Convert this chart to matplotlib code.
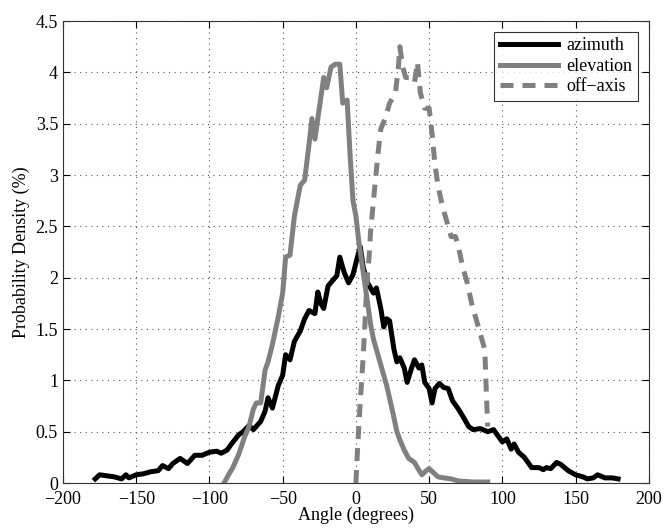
import numpy as np
import matplotlib
matplotlib.use("Agg")
import matplotlib.pyplot as plt

# azimuth (black)
az_x = [-178, -175, -170, -165, -160, -157, -155, -150, -145, -140, -135, -132, -128, -125,
        -120, -115, -110, -105, -100, -95, -92, -88, -85, -80, -77, -73, -70, -65, -62, -60,
        -57, -53, -50, -48, -45, -42, -38, -35, -32, -28, -26, -24, -22, -19, -16, -13, -11,
        -8, -5, -2, 1, 3, 5, 8, 12, 14, 17, 19, 21, 23, 26, 28, 30, 33, 35, 38, 40, 43, 45,
        47, 50, 52, 54, 57, 60, 63, 66, 70, 73, 77, 80, 85, 90, 94, 97, 100, 103, 106, 108,
        111, 115, 120, 125, 128, 130, 133, 137, 140, 145, 150, 155, 158, 162, 165, 170, 175, 179]
az_y = [0.04, 0.08, 0.07, 0.06, 0.04, 0.08, 0.05, 0.08, 0.09, 0.11, 0.12, 0.17, 0.14, 0.19,
        0.24, 0.19, 0.27, 0.27, 0.30, 0.31, 0.29, 0.32, 0.38, 0.47, 0.50, 0.56, 0.52, 0.60, 0.70, 0.83,
        0.73, 0.95, 1.05, 1.25, 1.20, 1.38, 1.48, 1.60, 1.68, 1.65, 1.86, 1.75, 1.70, 1.92, 1.97, 2.02, 2.20,
        2.05, 1.95, 2.03, 2.20, 2.30, 2.10, 1.95, 1.85, 1.90, 1.70, 1.52, 1.60, 1.58, 1.30, 1.18, 1.22, 1.12, 0.98, 1.12, 1.20, 1.12, 1.15,
        0.98, 0.92, 0.78, 0.92, 0.97, 0.93, 0.92, 0.80, 0.72, 0.65, 0.55, 0.52, 0.53, 0.50, 0.52, 0.46, 0.40, 0.43, 0.33, 0.38,
        0.30, 0.25, 0.15, 0.15, 0.13, 0.15, 0.14, 0.20, 0.18, 0.12, 0.08, 0.06, 0.04, 0.05, 0.08, 0.05, 0.05, 0.04]

# elevation (grey solid)
el_x = [-90, -87, -84, -80, -76, -73, -70, -68, -65, -62, -60, -57, -53, -50, -48, -45, -42,
        -38, -35, -32, -30, -28, -25, -22, -20, -17, -14, -11, -9, -6, -4, -2, 0, 2, 4, 6, 8,
        10, 12, 15, 18, 21, 25, 28, 30, 33, 36, 40, 42, 45, 48, 50, 53, 56, 60, 65, 70, 75, 80, 85, 90]
el_y = [0.0, 0.08, 0.15, 0.28, 0.45, 0.55, 0.72, 0.78, 0.78, 1.10, 1.18, 1.35, 1.62, 1.85, 2.20, 2.22, 2.60,
        2.90, 2.95, 3.30, 3.55, 3.35, 3.65, 3.95, 3.85, 4.05, 4.08, 4.08, 3.70, 3.73, 3.20, 2.75, 2.60, 2.35, 2.15, 1.95, 1.75,
        1.55, 1.40, 1.25, 1.10, 0.95, 0.70, 0.50, 0.42, 0.32, 0.24, 0.20, 0.15, 0.08, 0.12, 0.14, 0.10, 0.06, 0.05, 0.04, 0.02, 0.015, 0.01, 0.01, 0.01]

# off-axis (grey dashed)
off_x = [0, 1, 2, 3, 4, 5, 6, 7, 8, 9, 10, 11, 13, 15, 17, 20, 23, 27, 29, 30, 32, 34, 37, 40,
         42, 44, 47, 50, 52, 54, 56, 59, 62, 65, 68, 70, 73, 76, 79, 82, 85, 88, 89, 90]
off_y = [0.0, 0.30, 0.55, 0.80, 1.0, 1.25, 1.50, 1.80, 2.05, 2.20, 2.45, 2.60, 2.90, 3.20, 3.45, 3.55, 3.70, 3.80, 4.05, 4.25, 4.05, 3.95, 3.95, 3.90,
         4.10, 3.80, 3.65, 3.65, 3.40, 3.10, 2.90, 2.70, 2.55, 2.40, 2.40, 2.30, 2.10, 1.95, 1.75, 1.60, 1.45, 1.30, 0.90, 0.55]

plt.rcParams['font.family'] = ['Liberation Serif', 'DejaVu Serif']
plt.rcParams['axes.unicode_minus'] = True

fig = plt.figure(figsize=(6.65, 5.28), dpi=100)
ax = fig.add_axes([0.0947, 0.0852, 0.881, 0.875])

grey = '#808080'
ax.plot(az_x, az_y, color='black', lw=3.6, label='azimuth', solid_joinstyle='round')
ax.plot(el_x, el_y, color=grey, lw=3.6, label='elevation', solid_joinstyle='round')
ax.plot(off_x, off_y, color=grey, lw=3.6, ls=(0, (2.6, 1.8)), label='off\u2212axis')

ax.set_xlim(-200, 200)
ax.set_ylim(0, 4.5)
ax.set_xticks(np.arange(-200, 201, 50))
ax.set_yticks(np.arange(0, 4.51, 0.5))
ax.set_yticklabels(['0', '0.5', '1', '1.5', '2', '2.5', '3', '3.5', '4', '4.5'])
ax.grid(True, ls=(0, (1, 4)), color='#555555', lw=0.8)
ax.tick_params(direction='in', top=True, right=True, labelsize=13, length=5, width=0.8)
ax.tick_params(axis='x', pad=6)
for s in ax.spines.values():
    s.set_linewidth(0.8)
    s.set_color('#333333')

ax.set_xlabel('Angle (degrees)', fontsize=13, labelpad=-1)
ax.set_ylabel('Probability Density (%)', fontsize=13, labelpad=4)

leg = ax.legend(loc='upper right', fontsize=13, fancybox=False, edgecolor='black',
                handlelength=3.2, borderaxespad=0.6, labelspacing=0.2, borderpad=0.3, handletextpad=0.5)
leg.get_frame().set_linewidth(0.8)

fig.savefig('out.png', dpi=100)
